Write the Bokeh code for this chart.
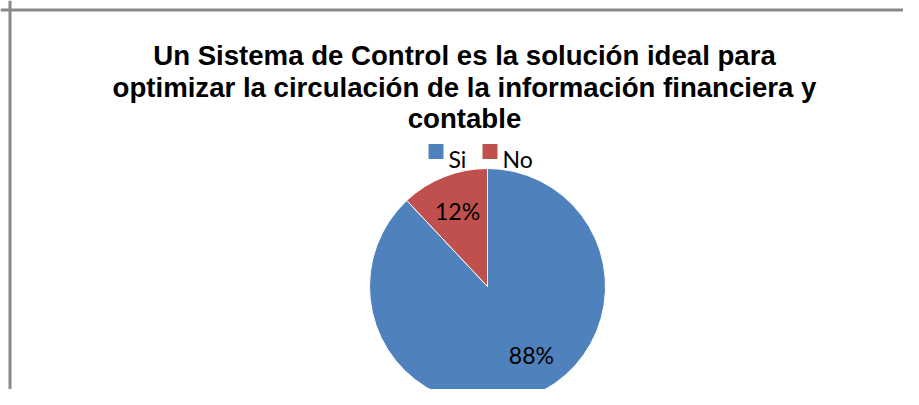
import math
from bokeh.plotting import figure
from bokeh.models import Range1d, Span, ColumnDataSource
from bokeh.core.properties import value
from bokeh.embed import file_html
from bokeh.resources import INLINE

# ---- data ----
categories = ["Si", "No"]
values = [88, 12]
colors = ["#4F81BD", "#C0504D"]
title_lines = [
    "Un Sistema de Control es la solución ideal para",
    "optimizar la circulación de la información financiera y",
    "contable",
]

# ---- layout (px; data y = -pixel y) ----
W, H = 903, 389
cx, cy, r = 487, -286, 118
title_x = 464
title_baselines = [-55, -87, -118]
label_k = 0.69
label_nudge_deg = [11.0, 0.0]

p = figure(width=W, height=H, output_backend="svg", toolbar_location=None,
           x_range=Range1d(0, W), y_range=Range1d(-H, 0),
           min_border=0, outline_line_color=None)
p.axis.visible = False
p.grid.visible = False
p.background_fill_color = "white"
p.border_fill_color = "white"

# chart border (top / left visible)
p.add_layout(Span(location=-9.5, dimension="width", line_color="#898989", line_width=3))
p.add_layout(Span(location=9.5, dimension="height", line_color="#898989", line_width=3))

# pie slices, clockwise from 12 o'clock
total = sum(values)
starts, ends, mids = [], [], []
cum = 0
for v in values:
    a0 = math.pi / 2 - 2 * math.pi * cum / total
    cum += v
    a1 = math.pi / 2 - 2 * math.pi * cum / total
    starts.append(a0)
    ends.append(a1)
    mids.append((a0 + a1) / 2)

src = ColumnDataSource(dict(x=[cx] * len(values), y=[cy] * len(values),
                            start=starts, end=ends, color=colors))
p.wedge(x="x", y="y", radius=r, start_angle="start", end_angle="end",
        direction="clock", fill_color="color", line_color="white",
        line_width=1, source=src)

# percentage labels
pct = [f"{round(100 * v / total)}%" for v in values]
lx, ly = [], []
for m, n in zip(mids, label_nudge_deg):
    a = m + math.radians(n)
    lx.append(cx + label_k * r * math.cos(a))
    ly.append(cy + label_k * r * math.sin(a))
p.text(x=lx, y=ly, text=pct, text_font=value("Lato"), text_font_size="23px",
       text_color="black", text_align="center", text_baseline="middle")

# title
p.text(x=[title_x] * len(title_lines), y=title_baselines, text=title_lines,
       text_font=value("Liberation Sans"), text_font_size="27.6px",
       text_font_style="bold", text_color="black", text_align="center",
       text_baseline="alphabetic")

# legend
leg_x0, leg_y = 428, -151
sq = 15
text_w = [18, 31]
x = leg_x0
sqx, tx = [], []
for w in text_w:
    sqx.append(x + sq / 2)
    tx.append(x + sq + 5)
    x += sq + 5 + w + 16
p.rect(x=sqx, y=[leg_y] * 2, width=sq, height=sq, fill_color=colors,
       line_color=None)
p.text(x=tx, y=[leg_y - 7] * 2, text=categories, text_font=value("Lato"),
       text_font_size="23px", text_color="black", text_align="left",
       text_baseline="alphabetic")

open("out.html", "w").write(file_html(p, INLINE))
